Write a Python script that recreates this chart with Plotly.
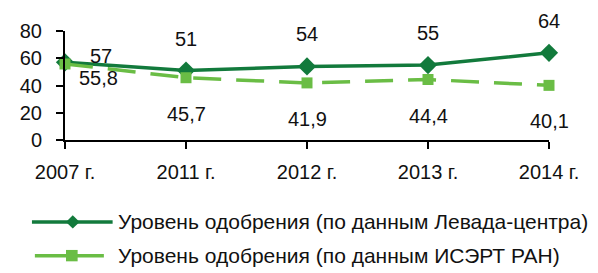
import plotly.graph_objects as go

years = ["2007 г.", "2011 г.", "2012 г.", "2013 г.", "2014 г."]
levada = [57, 51, 54, 55, 64]
isei = [55.8, 45.7, 41.9, 44.4, 40.1]
name_levada = "Уровень одобрения (по данным Левада-центра)"
name_isei = "Уровень одобрения (по данным ИСЭРТ РАН)"

DARK = "#127a3c"
LIGHT = "#6abd45"
FONT = "Liberation Sans, Arial, sans-serif"
FS = 20
FSL = 21

OFF = 8  # page body margin
W, H = 598 - OFF, 273 - OFF
L, R, T, B = 51 - OFF, 49, 25 - OFF, 133
PW, PH = W - L - R, H - T - B


def px(x):
    return (x - OFF - L) / PW


def py(y):
    return (H - B - (y - OFF)) / PH


fig = go.Figure()
fig.add_trace(go.Scatter(
    x=years, y=levada, mode="lines+markers", name=name_levada,
    line=dict(color=DARK, width=3.5),
    marker=dict(symbol="diamond", size=14, color=DARK),
    showlegend=False, cliponaxis=False))
fig.add_trace(go.Scatter(
    x=years, y=isei, mode="lines+markers", name=name_isei,
    line=dict(color=LIGHT, width=3.5, dash="28px,15px"),
    marker=dict(symbol="square", size=11, color=LIGHT),
    showlegend=False, cliponaxis=False))

ann = []
for i, (yr, v) in enumerate(zip(years, levada)):
    if i == 0:
        ann.append(dict(x=yr, y=v, text=str(v), xshift=36, yshift=6))
    else:
        ann.append(dict(x=yr, y=v, text=str(v), xshift=0, yshift=32))
for i, (yr, v) in enumerate(zip(years, isei)):
    t = f"{v:.1f}".replace(".", ",")
    if i == 0:
        ann.append(dict(x=yr, y=v, text=t, xshift=33, yshift=-14))
    else:
        ann.append(dict(x=yr, y=v, text=t, xshift=0, yshift=-36))
for a in ann:
    a.update(xref="x", yref="y", showarrow=False,
             font=dict(family=FONT, size=FS, color="#111111"))

shapes = []
legend_rows = [
    (226.5, 17, 100, 59, DARK, "diamond", name_levada),
    (262, 20, 91, 58, LIGHT, "square", name_isei),
]
for (yy, x0, x1, xm, col, sym, name) in legend_rows:
    shapes.append(dict(type="line", xref="paper", yref="paper",
                       x0=px(x0), x1=px(x1), y0=py(yy), y1=py(yy),
                       line=dict(color=col, width=3.5)))
    if sym == "diamond":
        d = 7
        path = (f"M{px(xm)},{py(yy - d)} L{px(xm + d)},{py(yy)} "
                f"L{px(xm)},{py(yy + d)} L{px(xm - d)},{py(yy)} Z")
        shapes.append(dict(type="path", xref="paper", yref="paper", path=path,
                           fillcolor=col, line=dict(color=col, width=0)))
    else:
        s = 6
        shapes.append(dict(type="rect", xref="paper", yref="paper",
                           x0=px(xm - s), x1=px(xm + s),
                           y0=py(yy + s), y1=py(yy - s),
                           fillcolor=col, line=dict(color=col, width=0)))
    ann.append(dict(xref="paper", yref="paper", x=px(104), y=py(yy),
                    xanchor="left", yanchor="middle", showarrow=False,
                    borderpad=0,
                    text=name, font=dict(family=FONT, size=FSL, color="#111111")))

fig.update_layout(
    width=W, height=H,
    margin=dict(l=L, r=R, t=T, b=B, pad=0),
    paper_bgcolor="white", plot_bgcolor="white",
    font=dict(family=FONT, size=FS, color="#111111"),
    showlegend=False,
    annotations=ann,
    shapes=shapes,
    xaxis=dict(type="category", range=[0, 4], showgrid=False, zeroline=False,
               showline=True, linecolor="black", linewidth=2,
               ticks="outside", ticklen=7, tickwidth=2, tickcolor="black",
               tickfont=dict(family=FONT, size=FS, color="#111111"),
               ticklabelstandoff=6, fixedrange=True),
    yaxis=dict(range=[0, 80], dtick=20, showgrid=False, zeroline=False,
               showline=True, linecolor="black", linewidth=2,
               ticks="outside", ticklen=7, tickwidth=2, tickcolor="black",
               tickfont=dict(family=FONT, size=FS, color="#111111"),
               ticklabelstandoff=10, fixedrange=True),
)

fig.write_html("out.html", config={"displayModeBar": False})
